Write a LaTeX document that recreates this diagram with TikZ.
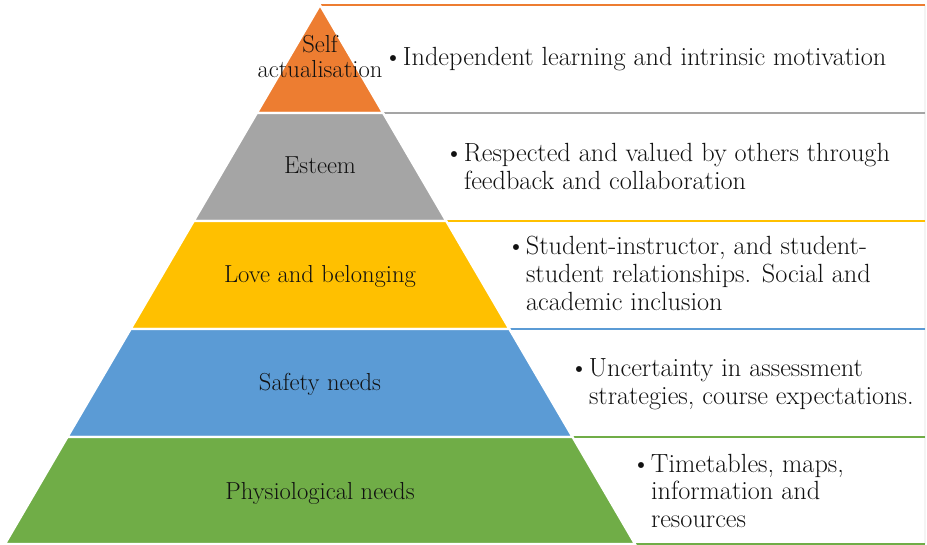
\documentclass[tikz,border=0pt]{standalone}
\usepackage{tikz}

\definecolor{lvOrange}{HTML}{ED7D31}
\definecolor{lvGray}{HTML}{A5A5A5}
\definecolor{lvYellow}{HTML}{FFC000}
\definecolor{lvBlue}{HTML}{5B9BD5}
\definecolor{lvGreen}{HTML}{70AD47}
\definecolor{inkText}{HTML}{111111}

\newcommand{\bulletlines}[1]{\llap{\textbullet\hspace{0.5pt}}\begin{tabular}[t]{@{}l@{}}#1\end{tabular}}

\begin{document}
\begin{tikzpicture}[x=1pt,y=-1pt,
  layer/.style={draw=white, line width=2.2pt, line join=miter},
  panel/.style={fill=white, draw=black!12, line width=0.6pt},
  panelrule/.style={line width=2pt},
  levelname/.style={inner sep=0pt, outer sep=0pt, anchor=base, text=inkText,
    font=\fontsize{24.6}{28}\selectfont},
  detail/.style={inner sep=0pt, outer sep=0pt, anchor=base west, text=inkText,
    font=\fontsize{26.3}{27.6}\selectfont}]
  \useasboundingbox (0,0) rectangle (927,545);

  % pyramid outline points: apex and the left/right ends of each level boundary
  \coordinate (apex) at (320,5);
  \coordinate (l1) at (256.9,113);  \coordinate (r1) at (383.1,113);
  \coordinate (l2) at (193.8,221);  \coordinate (r2) at (446.2,221);
  \coordinate (l3) at (130.7,329);  \coordinate (r3) at (509.3,329);
  \coordinate (l4) at (67.5,437);   \coordinate (r4) at (572.5,437);
  \coordinate (l5) at (5,544);      \coordinate (r5) at (635,544);
  % right edge of the description panels
  \coordinate (e0) at (925,5);   \coordinate (e1) at (925,113);
  \coordinate (e2) at (925,221); \coordinate (e3) at (925,329);
  \coordinate (e4) at (925,437); \coordinate (e5) at (925,544);

  % description panels
  \draw[panel] (apex) -- (e0) -- (e1) -- (r1) -- cycle;
  \draw[panel] (r1) -- (e1) -- (e2) -- (r2) -- cycle;
  \draw[panel] (r2) -- (e2) -- (e3) -- (r3) -- cycle;
  \draw[panel] (r3) -- (e3) -- (e4) -- (r4) -- cycle;
  \draw[panel] (r4) -- (e4) -- (e5) -- (r5) -- cycle;
  \draw[panelrule, lvGreen]  (r5) -- (e5);
  \draw[panelrule, lvOrange] (apex) -- (e0);
  \draw[panelrule, lvGray]   (r1) -- (e1);
  \draw[panelrule, lvYellow] (r2) -- (e2);
  \draw[panelrule, lvBlue]   (r3) -- (e3);
  \draw[panelrule, lvGreen]  (r4) -- (e4);

  % pyramid levels
  \draw[layer, fill=lvOrange] (apex) -- (r1) -- (l1) -- cycle;
  \draw[layer, fill=lvGray]   (l1) -- (r1) -- (r2) -- (l2) -- cycle;
  \draw[layer, fill=lvYellow] (l2) -- (r2) -- (r3) -- (l3) -- cycle;
  \draw[layer, fill=lvBlue]   (l3) -- (r3) -- (r4) -- (l4) -- cycle;
  \draw[layer, fill=lvGreen]  (l4) -- (r4) -- (r5) -- (l5) -- cycle;

  % level names
  \node[levelname] (self)  at (320,53)  {Self};
  \node[levelname] (actu)  at (320,78)  {actualisation};
  \node[levelname] (est)   at (320,174) {Esteem};
  \node[levelname] (love)  at (320,283) {Love and belonging};
  \node[levelname] (safe)  at (320,391) {Safety needs};
  \node[levelname] (phys)  at (320,499) {Physiological needs};

  % descriptions
  \node[detail] (d1) at (403,66)  {\bulletlines{Independent learning and intrinsic motivation}};
  \node[detail] (d2) at (464,162) {\bulletlines{Respected and valued by others through\\feedback and collaboration}};
  \node[detail] (d3) at (526,255) {\bulletlines{Student-instructor, and student-\\student relationships. Social and\\academic inclusion}};
  \node[detail] (d4) at (589,377) {\bulletlines{Uncertainty in assessment\\strategies, course expectations.}};
  \node[detail] (d5) at (651,472) {\bulletlines{Timetables, maps,\\information and\\resources}};
\end{tikzpicture}
\end{document}
